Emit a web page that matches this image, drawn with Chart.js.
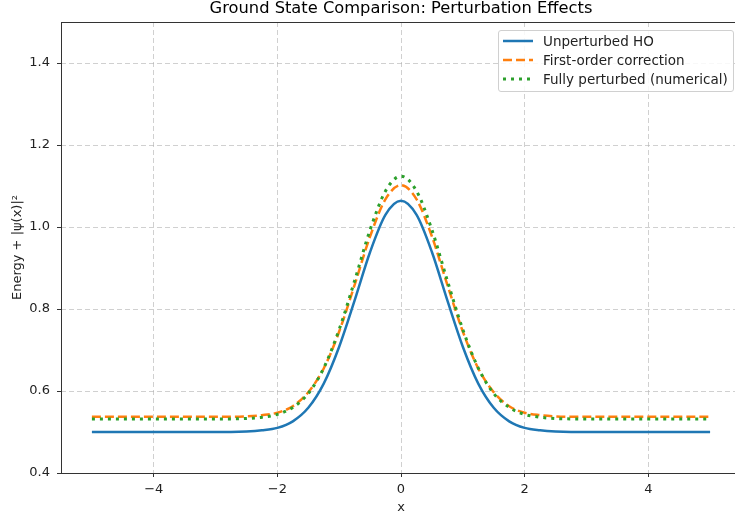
<!DOCTYPE html>
<html>
<head>
<meta charset="utf-8">
<script src="https://cdn.jsdelivr.net/npm/chart.js@4/dist/chart.umd.min.js"></script>
<style>
    body { margin: 0; overflow: hidden; background: #fff; }
    #wrap { position: relative; width: 745px; height: 519px; }
    #title {
        position: absolute; left: 201px; top: -2px; width: 400px; text-align: center;
        font-family: 'DejaVu Sans', sans-serif; font-size: 16.3px; line-height: 20px; color: #000;
        white-space: nowrap;
    }
    #legend {
        position: absolute; left: 498px; top: 30px; width: 236px; height: 62px;
        box-sizing: border-box; border: 1px solid #d0d0d0; border-radius: 3px;
        background: rgba(255, 255, 255, 0.85);
        font-family: 'DejaVu Sans', sans-serif; font-size: 13.5px; color: #222;
    }
    .row { position: absolute; left: 0; height: 18px; line-height: 18px; white-space: nowrap; }
    .row svg { position: absolute; left: 4px; top: 4px; }
    .row span { position: absolute; left: 44px; top: 0; }
</style>
</head>
<body>
<div id="wrap">
    <canvas id="chart" width="745" height="519"></canvas>
    <div id="title">Ground State Comparison: Perturbation Effects</div>
    <div id="legend">
        <div class="row" style="top:1px">
            <svg width="30" height="10"><line x1="0" y1="5" x2="30" y2="5" stroke="#1f77b4" stroke-width="2.5"/></svg>
            <span>Unperturbed HO</span>
        </div>
        <div class="row" style="top:20px">
            <svg width="30" height="10"><line x1="0" y1="5" x2="30" y2="5" stroke="#ff7f0e" stroke-width="2.5" stroke-dasharray="9,4"/></svg>
            <span>First-order correction</span>
        </div>
        <div class="row" style="top:39px">
            <svg width="30" height="10"><line x1="0" y1="5" x2="30" y2="5" stroke="#2ca02c" stroke-width="3" stroke-dasharray="3,5"/></svg>
            <span>Fully perturbed (numerical)</span>
        </div>
    </div>
</div>
<script>
// sample positions along x
const xValues = [-5, -4, -3, -2.75, -2.5, -2.25, -2, -1.75, -1.5, -1.25, -1, -0.75, -0.5, -0.25,
    0, 0.25, 0.5, 0.75, 1, 1.25, 1.5, 1.75, 2, 2.25, 2.5, 2.75, 3, 4, 5];

// values
const unperturbed = [0.500, 0.500, 0.500, 0.500, 0.501, 0.504, 0.510, 0.526, 0.559, 0.618, 0.708, 0.821, 0.939, 1.030,
    1.064, 1.030, 0.939, 0.821, 0.708, 0.618, 0.559, 0.526, 0.510, 0.504, 0.501, 0.500, 0.500, 0.500, 0.500];
const firstOrder = [0.537, 0.537, 0.537, 0.537, 0.538, 0.541, 0.547, 0.563, 0.597, 0.655, 0.745, 0.859, 0.977, 1.068,
    1.102, 1.068, 0.977, 0.859, 0.745, 0.655, 0.597, 0.563, 0.547, 0.541, 0.538, 0.537, 0.537, 0.537, 0.537];
const fullyPerturbed = [0.532, 0.532, 0.532, 0.532, 0.533, 0.536, 0.543, 0.560, 0.594, 0.656, 0.750, 0.869, 0.993, 1.088,
    1.124, 1.088, 0.993, 0.869, 0.750, 0.656, 0.594, 0.560, 0.543, 0.536, 0.533, 0.532, 0.532, 0.532, 0.532];

const xTicks = [-4, -2, 0, 2, 4];
const yTicks = [0.4, 0.6, 0.8, 1.0, 1.2, 1.4];

const toPoints = (ys) => xValues.map((x, i) => ({ x: x, y: ys[i] }));
const font = { family: 'DejaVu Sans', size: 13 };
const gridColor = 'rgba(176, 176, 176, 0.6)';

// matplotlib-like spines (left, bottom, top)
const spines = {
    id: 'spines',
    afterDatasetsDraw(chart) {
        const { ctx, chartArea: a } = chart;
        ctx.save();
        ctx.strokeStyle = '#333';
        ctx.lineWidth = 1;
        ctx.beginPath();
        ctx.moveTo(a.left + 0.5, a.top);
        ctx.lineTo(a.left + 0.5, a.bottom);
        ctx.moveTo(a.left, a.bottom + 0.5);
        ctx.lineTo(a.right, a.bottom + 0.5);
        ctx.moveTo(a.left, a.top + 0.5);
        ctx.lineTo(a.right, a.top + 0.5);
        ctx.stroke();
        ctx.restore();
    }
};

new Chart(document.getElementById('chart'), {
    type: 'line',
    data: {
        datasets: [
            {
                label: 'Unperturbed HO',
                data: toPoints(unperturbed),
                borderColor: '#1f77b4',
                borderWidth: 2.5,
                order: 2,
            },
            {
                label: 'First-order correction',
                data: toPoints(firstOrder),
                borderColor: '#ff7f0e',
                borderWidth: 2.5,
                borderDash: [9, 4],
                order: 1,
            },
            {
                label: 'Fully perturbed (numerical)',
                data: toPoints(fullyPerturbed),
                borderColor: '#2ca02c',
                borderWidth: 3,
                borderDash: [3, 5],
                order: 0,
            }
        ]
    },
    options: {
        responsive: false,
        animation: false,
        devicePixelRatio: 1,
        cubicInterpolationMode: 'monotone',
        elements: { point: { radius: 0 } },
        layout: { padding: { left: 0, right: 4, top: 22, bottom: 0 } },
        plugins: {
            legend: { display: false },
            tooltip: { enabled: false },
            title: { display: false },
        },
        scales: {
            x: {
                type: 'linear',
                min: -5.5,
                max: 5.5,
                afterBuildTicks: (s) => { s.ticks = xTicks.map(v => ({ value: v })); },
                afterFit: (s) => { s.height = 46; },
                grid: { color: gridColor, tickColor: '#333', tickLength: 4, tickWidth: 1, tickBorderDash: [] },
                border: { display: false, dash: [5, 3] },
                ticks: {
                    color: '#222', font: font, padding: 5, maxRotation: 0,
                    callback: (v) => String(v).replace('-', '\u2212'),
                },
                title: { display: true, text: 'x', color: '#222', font: font, padding: { top: 0, bottom: 4 } },
            },
            y: {
                min: 0.4,
                max: 1.5,
                afterBuildTicks: (s) => { s.ticks = yTicks.map(v => ({ value: v })); },
                afterFit: (s) => { s.width = 61; },
                grid: { color: gridColor, tickColor: '#333', tickLength: 4, tickWidth: 1, tickBorderDash: [] },
                border: { display: false, dash: [5, 3] },
                ticks: {
                    color: '#222', font: font, padding: 7,
                    callback: (v) => v.toFixed(1),
                },
                title: { display: true, text: 'Energy + |ψ(x)|²', color: '#222', font: font, padding: { top: 10, bottom: 0 } },
            }
        }
    },
    plugins: [spines]
});
</script>
</body>
</html>
